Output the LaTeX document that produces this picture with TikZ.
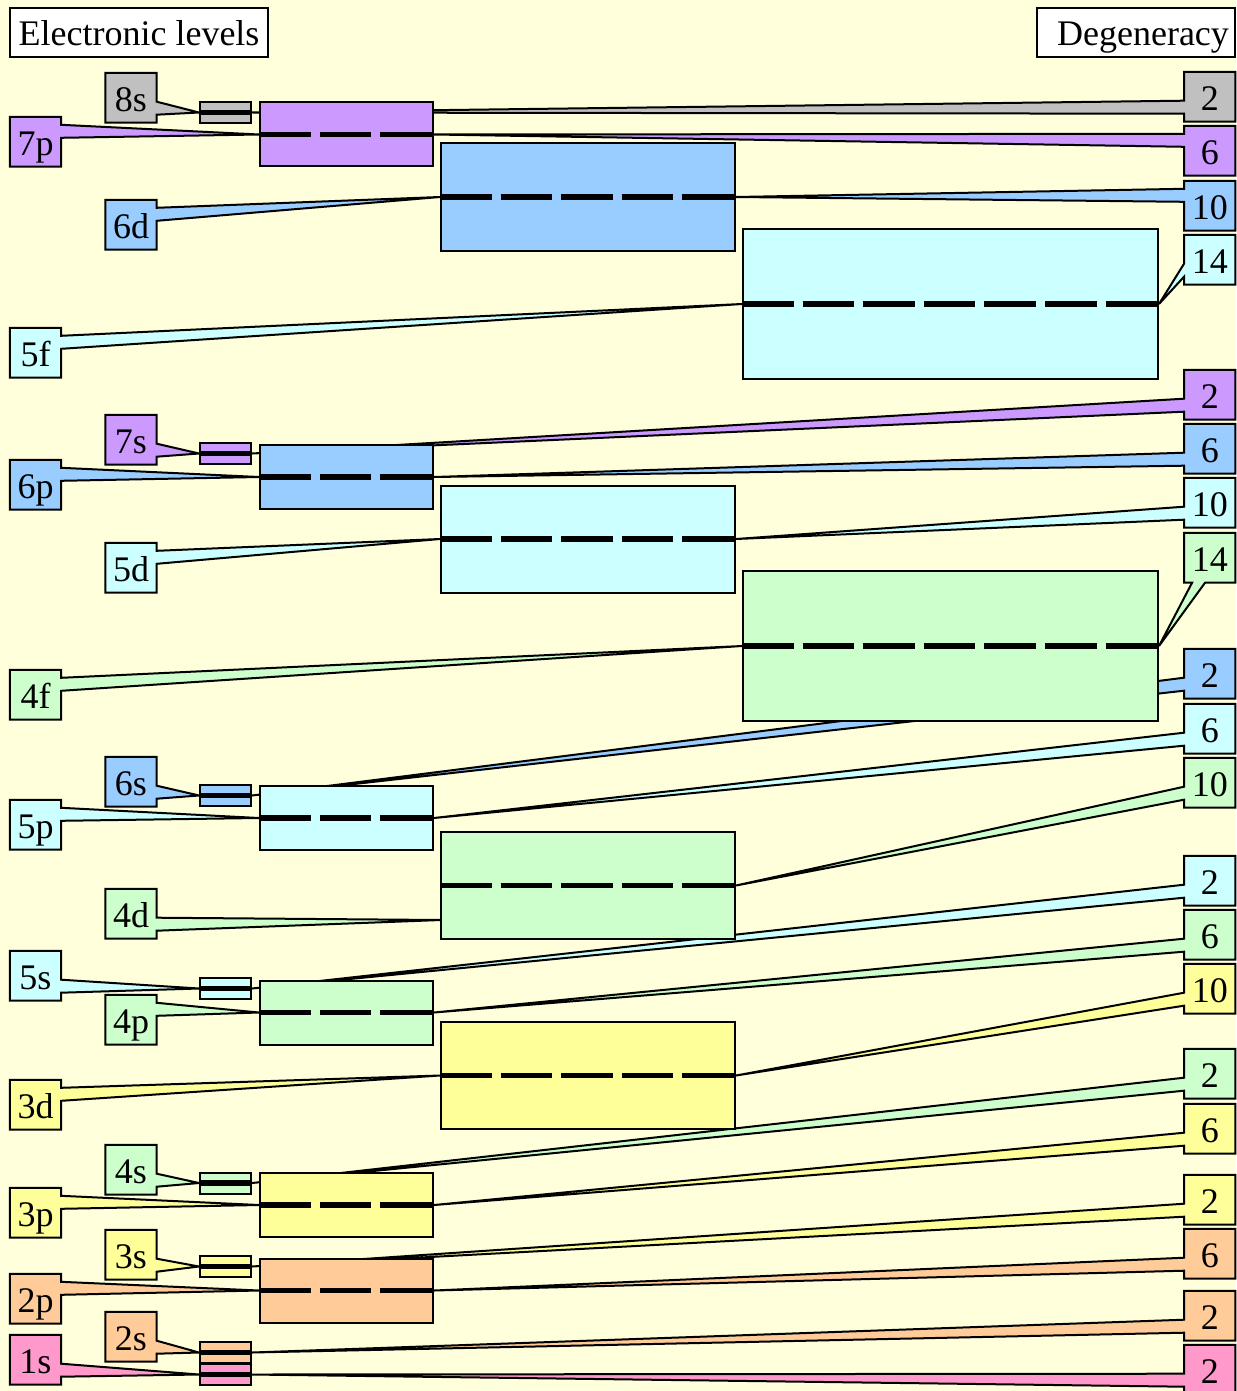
\documentclass[tikz,border=0pt]{standalone}
\usepackage{fontspec}
\setmainfont{Liberation Serif}
\usetikzlibrary{calc}
\pgfdeclarelayer{wedges}
\pgfdeclarelayer{levels}
\pgfsetlayers{wedges,levels,main}
\definecolor{bgc}{HTML}{FFFFDC}
\definecolor{cgray}{HTML}{C0C0C0}
\definecolor{cpurple}{HTML}{CC99FF}
\definecolor{cblue}{HTML}{99CCFF}
\definecolor{ccyan}{HTML}{CCFFFF}
\definecolor{cgreen}{HTML}{CCFFCC}
\definecolor{cyellow}{HTML}{FFFF99}
\definecolor{corange}{HTML}{FFCC99}
\definecolor{cpink}{HTML}{FF99CC}
\tikzset{
  lab/.style={inner sep=0pt, minimum width=51pt, minimum height=49.5pt,
    text height=28pt, text depth=0pt, font=\fontsize{36}{40}\selectfont},
  hdr/.style={draw=black, line width=2pt, fill=white, inner sep=0pt,
    minimum height=49pt, text height=27pt, text depth=0pt,
    font=\fontsize{36}{40}\selectfont},
  cbord/.style={draw=black, line width=2pt, line join=miter},
  lvbox/.style={draw=black, line width=2pt, inner sep=0pt},
  lvs/.style={lvbox, minimum width=51pt, minimum height=21pt},
  lvp/.style={lvbox, minimum width=173pt, minimum height=64pt},
  lvd/.style={lvbox, minimum width=294pt, minimum height=107pt},
  lvf/.style={lvbox, minimum width=415pt, minimum height=150pt},
  levsolid/.style={line width=5.5pt, line cap=butt},
  levdash/.style={line width=5.5pt, line cap=butt, dash pattern=on 51.6pt off 9pt},
}
% left label outlines
\newcommand\OutLU[3]{\begin{pgfonlayer}{wedges}
 \draw[cbord,fill=#3] (#1.north west) -- (#1.north east) -- ([yshift=-8pt]#1.north east) -- (#2) -- ([yshift=-21pt]#1.north east) -- (#1.south east) -- (#1.south west) -- cycle;
 \end{pgfonlayer}}
\newcommand\OutLD[3]{\begin{pgfonlayer}{wedges}
 \draw[cbord,fill=#3] (#1.north west) -- (#1.north east) -- ([yshift=21pt]#1.south east) -- (#2) -- ([yshift=8pt]#1.south east) -- (#1.south east) -- (#1.south west) -- cycle;
 \end{pgfonlayer}}
% right label outlines
\newcommand\OutRU[3]{\begin{pgfonlayer}{wedges}
 \draw[cbord,fill=#3] (#1.north east) -- (#1.north west) -- ([yshift=-8pt]#1.north west) -- (#2) -- ([yshift=-21pt]#1.north west) -- (#1.south west) -- (#1.south east) -- cycle;
 \end{pgfonlayer}}
\newcommand\OutRD[3]{\begin{pgfonlayer}{wedges}
 \draw[cbord,fill=#3] (#1.north east) -- (#1.north west) -- ([yshift=21pt]#1.south west) -- (#2) -- ([yshift=8pt]#1.south west) -- (#1.south west) -- (#1.south east) -- cycle;
 \end{pgfonlayer}}
\newcommand\OutRB[3]{\begin{pgfonlayer}{wedges}
 \draw[cbord,fill=#3] (#1.north east) -- (#1.north west) -- (#1.south west) -- ([xshift=8pt]#1.south west) -- (#2) -- ([xshift=21pt]#1.south west) -- (#1.south east) -- cycle;
 \end{pgfonlayer}}
% level boxes: name, colour, y centre
\newcommand\LevS[3]{\begin{pgfonlayer}{levels}
 \node[lvs,fill=#2] (#1) at (225.5,#3) {};
 \draw[levsolid] (#1.west) -- (#1.east);
 \end{pgfonlayer}}
\newcommand\LevP[3]{\begin{pgfonlayer}{levels}
 \node[lvp,fill=#2] (#1) at (346.5,#3) {};
 \draw[levdash] (#1.west) -- (#1.east);
 \end{pgfonlayer}}
\newcommand\LevD[3]{\begin{pgfonlayer}{levels}
 \node[lvd,fill=#2] (#1) at (588,#3) {};
 \draw[levdash] (#1.west) -- (#1.east);
 \end{pgfonlayer}}
\newcommand\LevF[3]{\begin{pgfonlayer}{levels}
 \node[lvf,fill=#2] (#1) at (950.5,#3) {};
 \draw[levdash] (#1.west) -- (#1.east);
 \end{pgfonlayer}}
% label nodes: name, x centre, top, text
\newcommand\Lab[4]{\node[lab] (#1) at (#2,#3+24.75) {#4};}
\begin{document}
\begin{tikzpicture}[x=1pt,y=-1pt]
\begin{pgfonlayer}{wedges}
\fill[bgc] (0,0) rectangle (1236,1391);
\end{pgfonlayer}
\useasboundingbox (0,0) rectangle (1236,1391);

% headers
\node[hdr, minimum width=258pt] (hleft) at (139,32.5) {Electronic levels};
\node[hdr, minimum width=198pt] (hright) at (1136,32.5) {\hspace*{14pt}Degeneracy};

% level boxes
\LevS{B8s}{cgray}{112.5}
\LevP{B7p}{cpurple}{134.5}
\LevD{B6d}{cblue}{197}
\LevF{B5f}{ccyan}{304}
\LevS{B7s}{cpurple}{453.5}
\LevP{B6p}{cblue}{477}
\LevD{B5d}{ccyan}{539}
\LevF{B4f}{cgreen}{646}
\LevS{B6s}{cblue}{795.5}
\LevP{B5p}{ccyan}{818}
\LevD{B4d}{cgreen}{885.5}
\LevS{B5s}{ccyan}{988.5}
\LevP{B4p}{cgreen}{1012.5}
\LevD{B3d}{cyellow}{1075.5}
\LevS{B4s}{cgreen}{1183}
\LevP{B3p}{cyellow}{1205}
\LevS{B3s}{cyellow}{1266.5}
\LevP{B2p}{corange}{1290.5}
\LevS{B2s}{corange}{1352.5}
\LevS{B1s}{cpink}{1374.5}

\coordinate (T4d) at (441,920);

% left labels
\Lab{L8s}{131}{73}{8s}\OutLD{L8s}{B8s.west}{cgray}
\Lab{L7p}{35.5}{117}{7p}\OutLU{L7p}{B7p.west}{cpurple}
\Lab{L6d}{131}{200}{6d}\OutLU{L6d}{B6d.west}{cblue}
\Lab{L5f}{35.5}{328}{5f}\OutLU{L5f}{B5f.west}{ccyan}
\Lab{L7s}{131}{415}{7s}\OutLD{L7s}{B7s.west}{cpurple}
\Lab{L6p}{35.5}{460}{6p}\OutLU{L6p}{B6p.west}{cblue}
\Lab{L5d}{131}{543}{5d}\OutLU{L5d}{B5d.west}{ccyan}
\Lab{L4f}{35.5}{670}{4f}\OutLU{L4f}{B4f.west}{cgreen}
\Lab{L6s}{131}{757}{6s}\OutLD{L6s}{B6s.west}{cblue}
\Lab{L5p}{35.5}{800}{5p}\OutLU{L5p}{B5p.west}{ccyan}
\Lab{L4d}{131}{889}{4d}\OutLD{L4d}{T4d}{cgreen}
\Lab{L5s}{35.5}{951}{5s}\OutLD{L5s}{B5s.west}{ccyan}
\Lab{L4p}{131}{995}{4p}\OutLU{L4p}{B4p.west}{cgreen}
\Lab{L3d}{35.5}{1080}{3d}\OutLU{L3d}{B3d.west}{cyellow}
\Lab{L4s}{131}{1145}{4s}\OutLD{L4s}{B4s.west}{cgreen}
\Lab{L3p}{35.5}{1188}{3p}\OutLU{L3p}{B3p.west}{cyellow}
\Lab{L3s}{131}{1230}{3s}\OutLD{L3s}{B3s.west}{cyellow}
\Lab{L2p}{35.5}{1274}{2p}\OutLU{L2p}{B2p.west}{corange}
\Lab{L2s}{131}{1312}{2s}\OutLD{L2s}{B2s.west}{corange}
\Lab{L1s}{35.5}{1335}{1s}\OutLD{L1s}{B1s.west}{cpink}

% right labels (degeneracy)
\Lab{R8s}{1209.75}{72}{2}\OutRD{R8s}{B8s.east}{cgray}
\Lab{R7p}{1209.75}{126}{6}\OutRU{R7p}{B7p.east}{cpurple}
\Lab{R6d}{1209.75}{181}{10}\OutRU{R6d}{B6d.east}{cblue}
\Lab{R5f}{1209.75}{235}{14}\OutRD{R5f}{B5f.east}{ccyan}
\Lab{R7s}{1209.75}{370}{2}\OutRD{R7s}{B7s.east}{cpurple}
\Lab{R6p}{1209.75}{424}{6}\OutRD{R6p}{B6p.east}{cblue}
\Lab{R5d}{1209.75}{478}{10}\OutRD{R5d}{B5d.east}{ccyan}
\Lab{R4f}{1209.75}{533}{14}\OutRB{R4f}{B4f.east}{cgreen}
\Lab{R6s}{1209.75}{649}{2}\OutRD{R6s}{B6s.east}{cblue}
\Lab{R5p}{1209.75}{704}{6}\OutRD{R5p}{B5p.east}{ccyan}
\Lab{R4d}{1209.75}{758}{10}\OutRD{R4d}{B4d.east}{cgreen}
\Lab{R5s}{1209.75}{856}{2}\OutRD{R5s}{B5s.east}{ccyan}
\Lab{R4p}{1209.75}{910}{6}\OutRD{R4p}{B4p.east}{cgreen}
\Lab{R3d}{1209.75}{964}{10}\OutRD{R3d}{B3d.east}{cyellow}
\Lab{R4s}{1209.75}{1049}{2}\OutRD{R4s}{B4s.east}{cgreen}
\Lab{R3p}{1209.75}{1104}{6}\OutRD{R3p}{B3p.east}{cyellow}
\Lab{R3s}{1209.75}{1175}{2}\OutRD{R3s}{B3s.east}{cyellow}
\Lab{R2p}{1209.75}{1229}{6}\OutRD{R2p}{B2p.east}{corange}
\Lab{R2s}{1209.75}{1291}{2}\OutRD{R2s}{B2s.east}{corange}
\Lab{R1s}{1209.75}{1345}{2}\OutRD{R1s}{B1s.east}{cpink}
\end{tikzpicture}
\end{document}
